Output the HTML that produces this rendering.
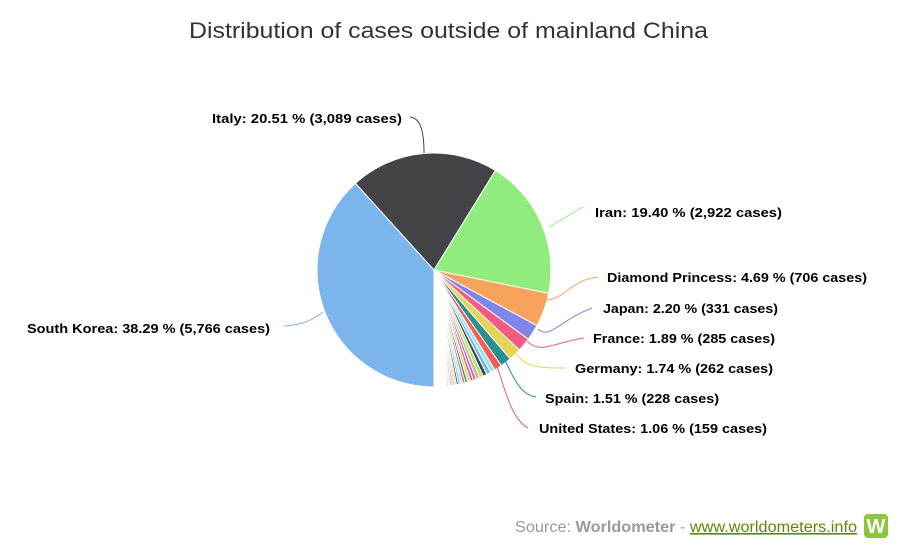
<!DOCTYPE html>
<html><head><meta charset="utf-8"><style>
body{margin:0;background:#fff;width:919px;height:551px;overflow:hidden;font-family:"Liberation Sans",Arial,sans-serif}
</style></head><body>
<svg id="s" width="919" height="551" xmlns="http://www.w3.org/2000/svg" font-family="Liberation Sans, Arial, sans-serif">
<text x="189" y="38" font-size="22" fill="#333" textLength="519" lengthAdjust="spacingAndGlyphs">Distribution of cases outside of mainland China</text>
<g id="pie"></g>
<g fill="none" stroke-width="1">
<path d="M424 153 C424 130 420 118 410 117" stroke="#434348"/>
<path d="M549 227 L583 207" stroke="#90ed7d"/>
<path d="M545 300 C565 300 570 280 598 277" stroke="#f7a35c"/>
<path d="M538 329 C550 340 560 320 592 308" stroke="#8085e9"/>
<path d="M527 341 C540 355 555 342 584 338" stroke="#f15c80"/>
<path d="M515 352 C525 368 540 368 566 368" stroke="#e4d354"/>
<path d="M505 360 C512 375 520 395 536 397" stroke="#2b908f"/>
<path d="M497 366 C505 390 512 420 528 428" stroke="#f45b5b"/>
<path d="M323 312 C310 322 300 325 284 326" stroke="#7cb5ec"/>
</g>
<g font-size="13" font-weight="bold" fill="#000" lengthAdjust="spacingAndGlyphs">
<text x="212" y="123" textLength="190" lengthAdjust="spacingAndGlyphs">Italy: 20.51 % (3,089 cases)</text>
<text x="595" y="217" textLength="187" lengthAdjust="spacingAndGlyphs">Iran: 19.40 % (2,922 cases)</text>
<text x="607" y="282" textLength="260" lengthAdjust="spacingAndGlyphs">Diamond Princess: 4.69 % (706 cases)</text>
<text x="603" y="313" textLength="175" lengthAdjust="spacingAndGlyphs">Japan: 2.20 % (331 cases)</text>
<text x="593" y="343" textLength="182" lengthAdjust="spacingAndGlyphs">France: 1.89 % (285 cases)</text>
<text x="575" y="373" textLength="198" lengthAdjust="spacingAndGlyphs">Germany: 1.74 % (262 cases)</text>
<text x="545" y="403" textLength="174" lengthAdjust="spacingAndGlyphs">Spain: 1.51 % (228 cases)</text>
<text x="539" y="433" textLength="228" lengthAdjust="spacingAndGlyphs">United States: 1.06 % (159 cases)</text>
<text x="27" y="333" textLength="243" lengthAdjust="spacingAndGlyphs">South Korea: 38.29 % (5,766 cases)</text>
</g>
<text x="515" y="532" font-size="16" fill="#999" textLength="342" lengthAdjust="spacingAndGlyphs">Source: <tspan font-weight="bold">Worldometer</tspan> - <tspan fill="#5a8a00" text-decoration="underline">www.worldometers.info</tspan></text>
<rect x="864" y="514" width="24" height="24" rx="4" fill="#8cc63f"/>
<text x="876" y="533" font-size="20" font-weight="bold" fill="#fff" text-anchor="middle">W</text>
</svg>
<script>
var cx=434,cy=270,r=117;
var cols=["#7cb5ec","#434348","#90ed7d","#f7a35c","#8085e9","#f15c80","#e4d354","#2b908f","#f45b5b","#91e8e1"];
var vals=[38.29,20.51,19.40,4.69,2.20,1.89,1.74,1.51,1.06];
var rest=100-vals.reduce(function(a,b){return a+b},0);
var n=40,w=[],ws=0;for(var i=0;i<n;i++){var v=Math.pow(0.93,i);w.push(v);ws+=v;}
for(var i=0;i<n;i++)vals.push(rest*w[i]/ws);
var a=180,g=document.getElementById('pie'),h='';
function pt(d){var t=d*Math.PI/180;return [cx+r*Math.sin(t),cy-r*Math.cos(t)];}
for(var i=0;i<vals.length;i++){var s=vals[i]*3.6,p1=pt(a),p2=pt(a+s);
h+='<path d="M'+cx+' '+cy+' L'+p1[0].toFixed(2)+' '+p1[1].toFixed(2)+' A'+r+' '+r+' 0 '+(s>180?1:0)+' 1 '+p2[0].toFixed(2)+' '+p2[1].toFixed(2)+' Z" fill="'+cols[i%10]+'" stroke="#fff" stroke-width="1" stroke-linejoin="round"/>';a+=s;}
g.innerHTML=h;
</script>
</body></html>
